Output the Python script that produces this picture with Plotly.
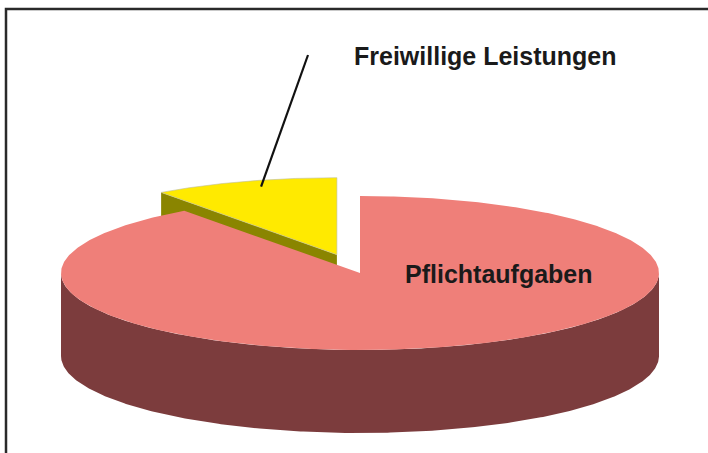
import numpy as np
import plotly.graph_objects as go

# ---- data ----
labels = ["Freiwillige Leistungen", "Pflichtaufgaben"]
values = [10, 90]
pulls = [0.25, 0.0]
top_colors = ["#FFEA00", "#EF7F79"]
side_colors = ["#8A8500", "#7C3C3D"]

# ---- geometry (layout) ----
W, H = 708, 453
CX, CY = 360.0, 273.0
RX, RY = 299.0, 77.0
DEPTH = 83.0
START = 90.0  # degrees, slices go counter-clockwise

total = float(sum(values))
spans = [v / total * 360.0 for v in values]
starts = []
a = START
for s in spans:
    starts.append(a)
    a += s


def pt(cx, cy, ang, r=1.0, dz=0.0):
    t = np.radians(ang)
    return cx + r * RX * np.cos(t), cy - r * RY * np.sin(t) + dz


fig = go.Figure()


def poly(xs, ys, color, line_color=None):
    xs = list(xs) + [xs[0]]
    ys = list(ys) + [ys[0]]
    fig.add_trace(go.Scatter(
        x=xs, y=ys, mode="lines", fill="toself", fillcolor=color,
        line=dict(color=line_color or color, width=0.6 if line_color else 0),
        hoverinfo="skip", showlegend=False))


slice_geo = []
for i in range(len(values)):
    a0, a1 = starts[i], starts[i] + spans[i]
    mid = (a0 + a1) / 2
    ox = pulls[i] * RX * np.cos(np.radians(mid))
    oy = -pulls[i] * RY * np.sin(np.radians(mid))
    slice_geo.append((a0, a1, mid, CX + ox, CY + oy))

# draw exploded small slice first (it lies behind), then the big one
for i in [0, 1]:
    a0, a1, mid, cx, cy = slice_geo[i]
    for ang in (a0, a1):
        angn = ang % 360
        facing = (ang == a1 and 90 < angn < 270) or (ang == a0 and (angn > 270 or angn < 90))
        if facing:
            x1, y1 = pt(cx, cy, ang)
            poly([cx, x1, x1, cx], [cy, y1, y1 + DEPTH, cy + DEPTH], side_colors[i])
    angs = np.linspace(a0, a1, 600)
    vis = [g for g in angs if 180 <= (g % 360) <= 360 or (g % 360) == 0]
    if vis:
        vis = np.array(vis)
        tx, ty = pt(cx, cy, vis)
        bx, by = pt(cx, cy, vis[::-1], dz=DEPTH)
        poly(np.concatenate([tx, bx]), np.concatenate([ty, by]), side_colors[i])
    ax, ay = pt(cx, cy, angs)
    poly(np.concatenate([[cx], ax]), np.concatenate([[cy], ay]), top_colors[i],
         line_color="#BDBDA0" if i == 0 else None)

# leader line for the small slice
a0, a1, mid, cx, cy = slice_geo[0]
ex, ey = pt(cx, cy, mid - 2, r=0.92)
fig.add_trace(go.Scatter(x=[308, ex], y=[55, ey], mode="lines",
                         line=dict(color="#111111", width=2.2),
                         hoverinfo="skip", showlegend=False))

font = dict(family="Liberation Sans, Arial, sans-serif", size=25, color="#1A1A1A")
fig.add_annotation(x=352, y=56, text="<b>" + labels[0] + "</b>", showarrow=False,
                   xanchor="left", yanchor="middle", font=font)
fig.add_annotation(x=403, y=274, text="<b>" + labels[1] + "</b>", showarrow=False,
                   xanchor="left", yanchor="middle", font=font)

# frame
fig.add_shape(type="rect", x0=6, y0=9, x1=730, y1=480,
              line=dict(color="#2A2A2A", width=2.5), fillcolor="rgba(0,0,0,0)")

fig.update_layout(
    width=W, height=H, margin=dict(l=0, r=0, t=0, b=0),
    paper_bgcolor="white", plot_bgcolor="white",
    xaxis=dict(range=[0, W], visible=False, fixedrange=True),
    yaxis=dict(range=[H, 0], visible=False, fixedrange=True),
)

fig.write_html(
    "out.html",
    config={"displayModeBar": False},
    post_script="document.body.style.margin='0';document.body.style.overflow='hidden';",
)
